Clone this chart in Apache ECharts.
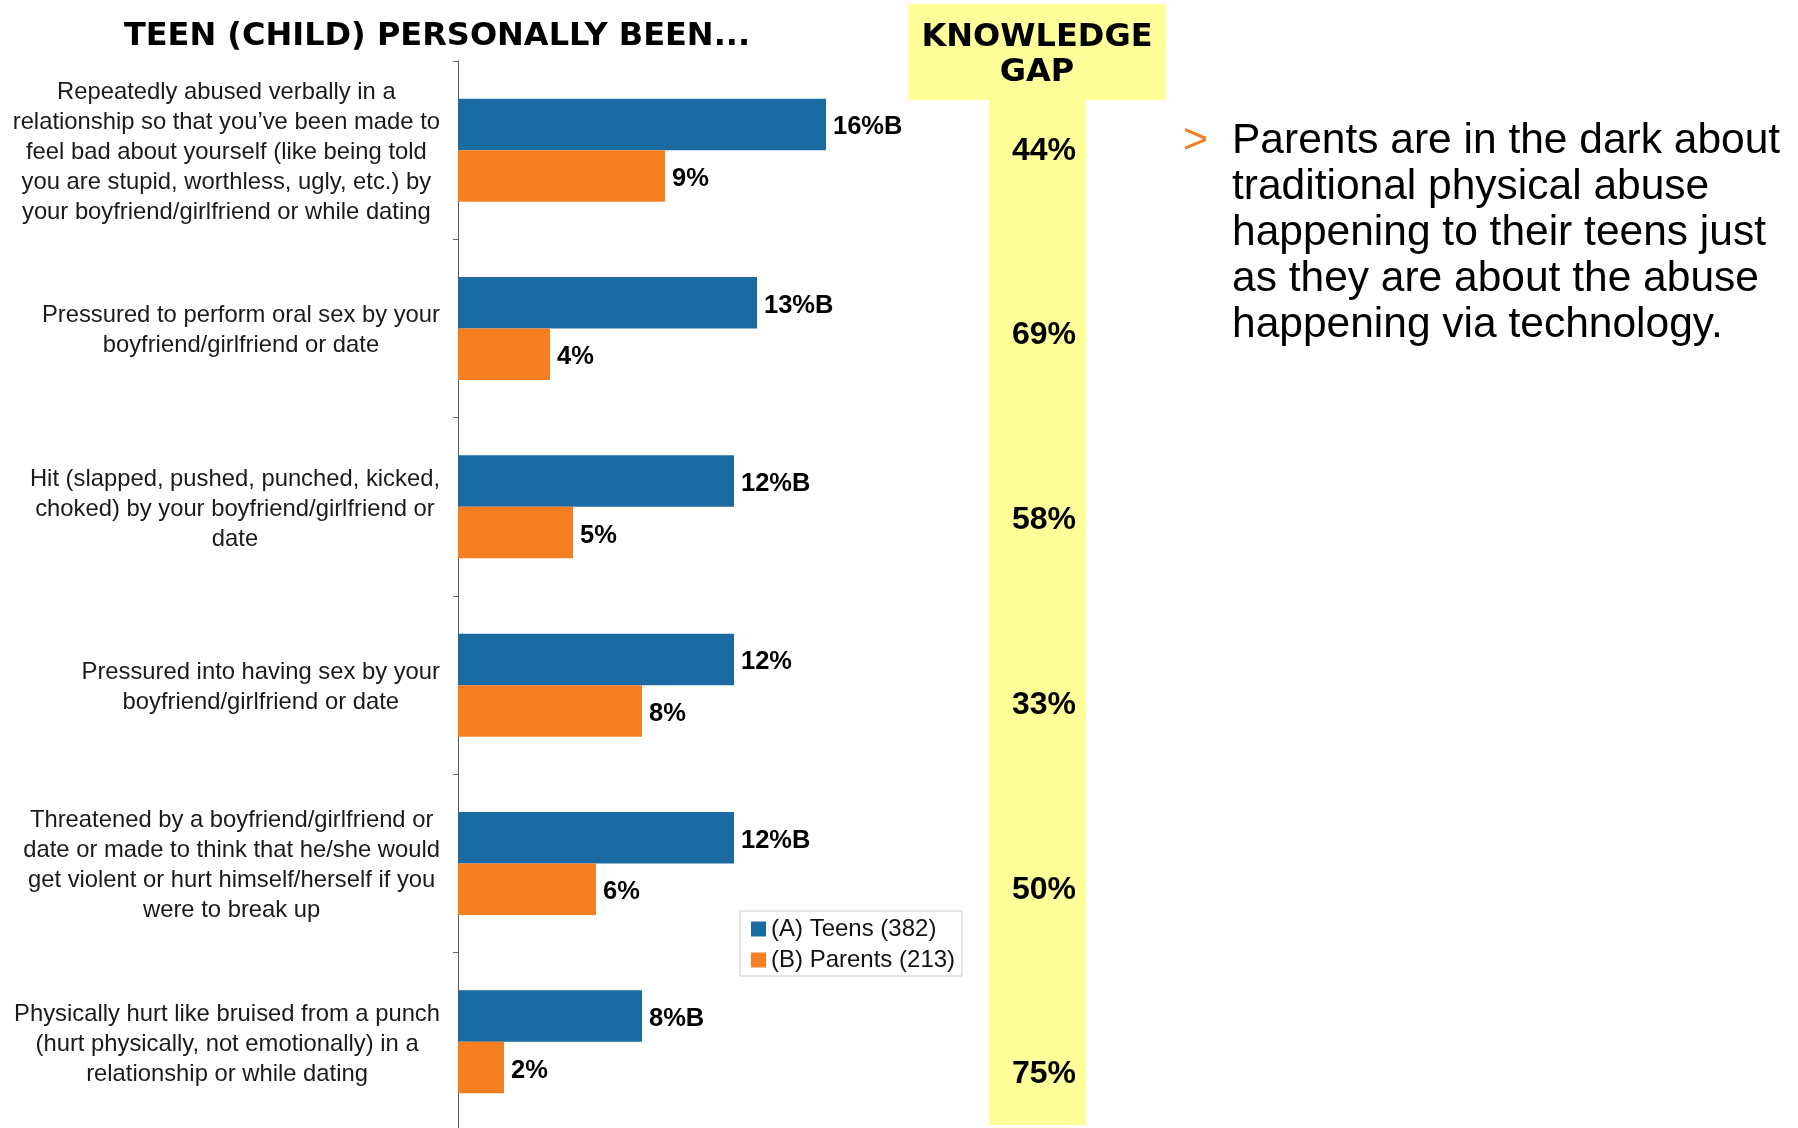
<!DOCTYPE html>
<html>
<head>
<meta charset="utf-8">
<script src="https://cdn.jsdelivr.net/npm/echarts@6/dist/echarts.min.js"></script>
<style>
  html, body { margin: 0; padding: 0; background: #fff; }
  #chart { width: 1798px; height: 1128px; }
</style>
</head>
<body>
<div id="chart"></div>
<script>
// categories, top to bottom
const categories = [
  'Repeatedly abused verbally in a\nrelationship so that you\u2019ve been made to\nfeel bad about yourself (like being told\nyou are stupid, worthless, ugly, etc.) by\nyour boyfriend/girlfriend or while dating',
  'Pressured to perform oral sex by your\nboyfriend/girlfriend or date',
  'Hit (slapped, pushed, punched, kicked,\nchoked) by your boyfriend/girlfriend or\ndate',
  'Pressured into having sex by your\nboyfriend/girlfriend or date',
  'Threatened by a boyfriend/girlfriend or\ndate or made to think that he/she would\nget violent or hurt himself/herself if you\nwere to break up',
  'Physically hurt like bruised from a punch\n(hurt physically, not emotionally) in a\nrelationship or while dating'
]
const teens = [16, 13, 12, 12, 12, 8]
const parents = [9, 4, 5, 8, 6, 2]
// significance letter shown after the teen value
const teenSig = ['B', 'B', 'B', '', 'B', 'B']
const knowledgeGap = [44, 69, 58, 33, 50, 75]
const seriesNames = ['(A) Teens (382)', '(B) Parents (213)']

const BLUE = '#1A6BA2'
const ORANGE = '#F57E20'
const YELLOW = '#FFFF99'

const chart = echarts.init(document.getElementById('chart'))

chart.setOption({
  animation: false,
  grid: [
    { left: 458, top: 61, width: 690, height: 1070, outerBoundsMode: 'none' },
    { left: 1044, top: 58.5, width: 10, height: 1108.5, outerBoundsMode: 'none' }
  ],
  xAxis: [
    { type: 'value', gridIndex: 0, min: 0, max: 30, show: false },
    { type: 'value', gridIndex: 1, min: 0, max: 1, show: false }
  ],
  yAxis: [
    {
      type: 'category',
      gridIndex: 0,
      data: categories,
      inverse: true,
      axisLine: { show: true, lineStyle: { color: '#555', width: 1 } },
      axisTick: { show: true, length: 5, lineStyle: { color: '#666' } },
      axisLabel: {
        interval: 0,
        align: 'right',
        margin: 18,
        padding: [4.6, 0, 0, 0],
        // lines centred inside a right-aligned block
        formatter: v => v.split('\n').map(s => '{c|' + s + '}').join('\n'),
        rich: {
          c: {
            align: 'center',
            fontFamily: 'Liberation Sans',
            fontSize: 23.8,
            lineHeight: 30,
            color: '#1a1a1a'
          }
        }
      }
    },
    {
      type: 'category',
      gridIndex: 1,
      data: knowledgeGap,
      inverse: true,
      axisLine: { show: false },
      axisTick: { show: false },
      axisLabel: {
        interval: 0,
        align: 'center',
        margin: 0,
        fontFamily: 'Liberation Sans',
        fontWeight: 'bold',
        fontSize: 32,
        color: '#000',
        formatter: v => v + '%'
      }
    }
  ],
  legend: {
    data: seriesNames,
    orient: 'vertical',
    left: 740,
    top: 911,
    icon: 'rect',
    itemWidth: 15,
    itemHeight: 15,
    itemGap: 7,
    padding: [6, 7, 4, 11],
    borderColor: '#cccccc',
    borderWidth: 1,
    backgroundColor: '#fff',
    textStyle: { fontFamily: 'Liberation Sans', fontSize: 24, lineHeight: 24, color: '#111' }
  },
  series: [
    {
      name: seriesNames[0],
      type: 'bar',
      xAxisIndex: 0,
      yAxisIndex: 0,
      data: teens,
      barWidth: 51.5,
      barGap: '0%',
      itemStyle: { color: BLUE },
      label: {
        show: true,
        position: 'right',
        distance: 7,
        offset: [0, 3],
        fontFamily: 'Liberation Sans',
        fontWeight: 'bold',
        fontSize: 25.5,
        color: '#000',
        formatter: p => p.value + '%' + teenSig[p.dataIndex]
      }
    },
    {
      name: seriesNames[1],
      type: 'bar',
      xAxisIndex: 0,
      yAxisIndex: 0,
      data: parents,
      barWidth: 51.5,
      barGap: '0%',
      itemStyle: { color: ORANGE },
      label: {
        show: true,
        position: 'right',
        distance: 7,
        offset: [0, 3],
        fontFamily: 'Liberation Sans',
        fontWeight: 'bold',
        fontSize: 25.5,
        color: '#000',
        formatter: p => p.value + '%'
      }
    }
  ],
  graphic: [
    // knowledge gap column
    { type: 'rect', z: -10, shape: { x: 908, y: 4, width: 258, height: 96 }, style: { fill: YELLOW } },
    { type: 'rect', z: -10, shape: { x: 989, y: 99, width: 97, height: 1026 }, style: { fill: YELLOW } },
    {
      type: 'text', x: 1037, y: 55.5,
      style: {
        text: 'KNOWLEDGE\nGAP', fill: '#000',
        font: 'bold 32px "DejaVu Sans"', lineHeight: 35,
        align: 'center', verticalAlign: 'middle'
      }
    },
    // chart title
    {
      type: 'text', x: 437, y: 37,
      style: {
        text: 'TEEN (CHILD) PERSONALLY BEEN...', fill: '#000',
        font: 'bold 32px "DejaVu Sans"',
        align: 'center', verticalAlign: 'middle'
      }
    },
    // takeaway bullet
    {
      type: 'text', x: 1183, y: 141,
      style: { text: '>', fill: ORANGE, font: '43px "Liberation Sans"', verticalAlign: 'middle' }
    },
    {
      type: 'text', x: 1232, y: 118.5,
      style: {
        text: 'Parents are in the dark about\ntraditional physical abuse\nhappening to their teens just\nas they are about the abuse\nhappening via technology.',
        fill: '#000', font: '42.5px "Liberation Sans"', lineHeight: 46,
        verticalAlign: 'top'
      }
    }
  ]
})
</script>
</body>
</html>
